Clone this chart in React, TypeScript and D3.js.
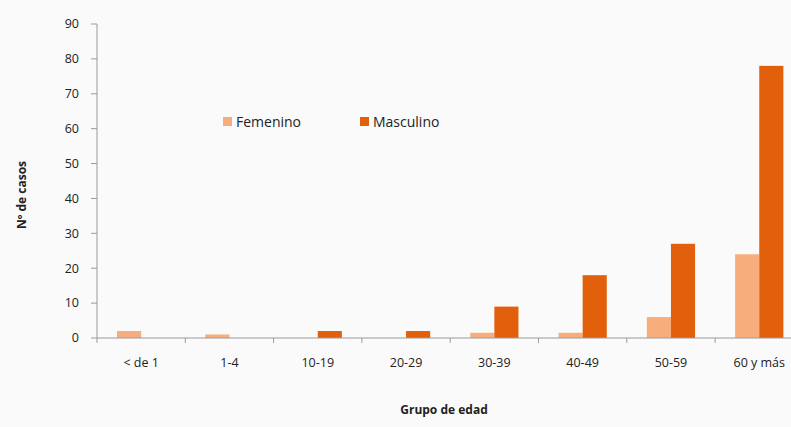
import React from "react";
import * as d3 from "d3";

const categories = ["< de 1", "1-4", "10-19", "20-29", "30-39", "40-49", "50-59", "60 y más"];
const femenino = [2, 1, 0, 0, 1.5, 1.5, 6, 24];
const masculino = [0, 0, 2, 2, 9, 18, 27, 78];
const seriesNames = ["Femenino", "Masculino"];
const yTicks = [0, 10, 20, 30, 40, 50, 60, 70, 80, 90];

const colors: Record<string, string> = {
  Femenino: "#F8AE7C",
  Masculino: "#E2600C",
};

const W = 791;
const H = 427;
const font = "'Open Sans', 'Liberation Sans', sans-serif";

const App: React.FC = () => {
  const x0 = d3.scaleBand<string>().domain(categories).range([97, 97 + 8 * 88.3]);
  const x1 = d3
    .scaleBand<string>()
    .domain(seriesNames)
    .range([0, x0.bandwidth()])
    .paddingInner(0)
    .paddingOuter(0.83);
  const y = d3.scaleLinear().domain([0, 90]).range([338, 24]);

  const rows = categories.map((c, i) => ({
    cat: c,
    values: [
      { key: "Femenino", v: femenino[i] },
      { key: "Masculino", v: masculino[i] },
    ],
  }));

  const boundaries = d3.range(categories.length + 1).map((i) => 97 + i * x0.step());

  return (
    <div style={{ position: "absolute", left: 0, top: 0 }}>
      <svg width={W} height={H} style={{ display: "block", background: "#FAFAFA" }}>
        {/* y axis */}
        <line x1={97} x2={97} y1={y(90)} y2={y(0)} stroke="#9a9a9a" strokeWidth={1} />
        {yTicks.map((t) => (
          <g key={t}>
            <line x1={91} x2={97} y1={y(t)} y2={y(t)} stroke="#9a9a9a" />
            <text
              x={79}
              y={y(t)}
              dy="0.35em"
              textAnchor="end"
              fontSize={12.5}
              fontFamily={font}
              fill="#222"
            >
              {t}
            </text>
          </g>
        ))}

        {/* bars */}
        {rows.map((r) => (
          <g key={r.cat} transform={`translate(${x0(r.cat)},0)`}>
            {r.values.map((d) => (
              <rect
                key={d.key}
                x={x1(d.key)}
                y={y(d.v)}
                width={x1.bandwidth()}
                height={y(0) - y(d.v)}
                fill={colors[d.key]}
              />
            ))}
          </g>
        ))}

        {/* x axis */}
        <line x1={97} x2={W} y1={y(0)} y2={y(0)} stroke="#9a9a9a" strokeWidth={1} />
        {boundaries.map((b, i) => (
          <line key={i} x1={b} x2={b} y1={y(0)} y2={y(0) + 5} stroke="#9a9a9a" />
        ))}
        {categories.map((c) => (
          <text
            key={c}
            x={(x0(c) ?? 0) + x0.bandwidth() / 2}
            y={367}
            textAnchor="middle"
            fontSize={12.5}
            fontFamily={font}
            fill="#222"
          >
            {c}
          </text>
        ))}

        {/* axis titles */}
        <text
          x={444}
          y={414}
          textAnchor="middle"
          fontSize={12}
          fontWeight="bold"
          fontFamily={font}
          fill="#222"
        >
          Grupo de edad
        </text>
        <text
          transform={`translate(26,195) rotate(-90)`}
          textAnchor="middle"
          fontSize={12}
          fontWeight="bold"
          fontFamily={font}
          fill="#222"
        >
          Nº de casos
        </text>

        {/* legend */}
        {seriesNames.map((s, i) => {
          const lx = i === 0 ? 223 : 360;
          return (
            <g key={s} transform={`translate(${lx},122)`}>
              <rect x={0} y={-5} width={9} height={9} fill={colors[s]} />
              <text x={13} y={0} dy="0.35em" fontSize={14} fontFamily={font} fill="#222">
                {s}
              </text>
            </g>
          );
        })}
      </svg>
    </div>
  );
};

export default App;
